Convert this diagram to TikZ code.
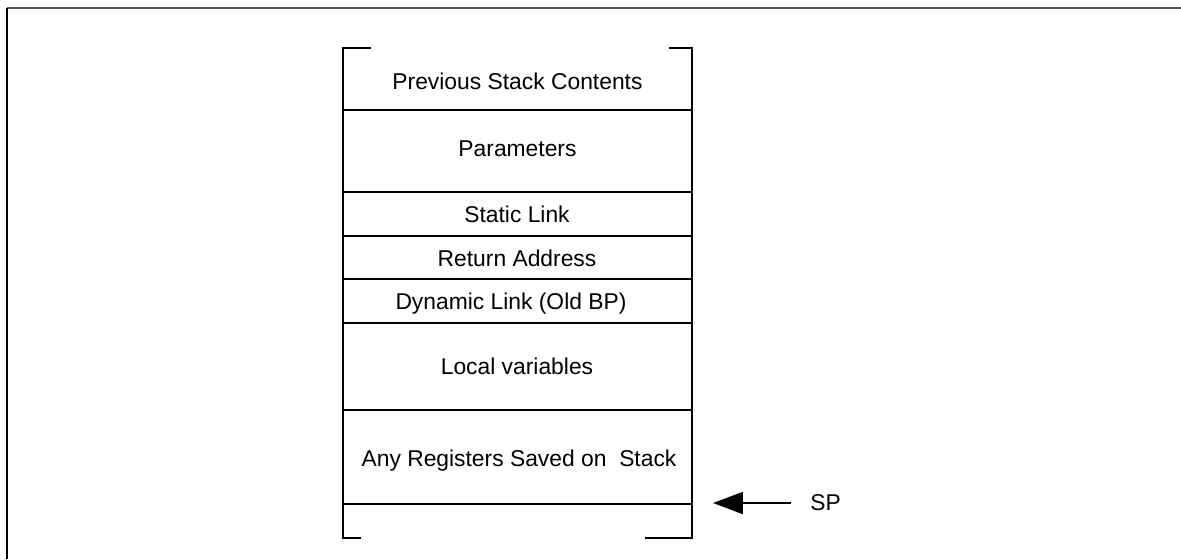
\documentclass[tikz,border=0pt]{standalone}
\usepackage{fontspec}
\setmainfont{Liberation Sans}
\usepackage{xcolor}
\usetikzlibrary{arrows.meta}
\definecolor{framegray}{HTML}{555555}
\tikzstyle{arrow} = [line width=1.1pt,-{Triangle[length=17pt,width=12.5pt]}]
\tikzstyle{cellline} = [line width=1.3pt]
\tikzstyle{label} = [anchor=base,inner sep=0pt,font=\fontsize{13pt}{15pt}\selectfont]

\begin{document}
\begin{tikzpicture}[line cap=butt,line join=miter,x=0.02cm,y=-0.02cm]
            \useasboundingbox (0,0) rectangle (1181,559);
            % outer frame
            \draw [line width=1.1pt,color=framegray] (7,8)-- (1181,8);
            \draw [line width=1.1pt,color=black] (7,8)-- (7,559);
            % stack brackets
            \draw [cellline] (371,48)-- (343,48)-- (343,538)-- (361,538);
            \draw [cellline] (669,48)-- (692,48)-- (692,538)-- (645,538);
            % dividers
            \draw [cellline] (343,110)-- (692,110);
            \draw [cellline] (343,192)-- (692,192);
            \draw [cellline] (343,236)-- (692,236);
            \draw [cellline] (343,279)-- (692,279);
            \draw [cellline] (343,323)-- (692,323);
            \draw [cellline] (343,410)-- (692,410);
            \draw [cellline] (343,504)-- (692,504);
            % contents
            \node[label] (prev) at (517.5,89) {Previous Stack Contents};
            \node[label] (params) at (517.5,156) {Parameters};
            \node[label] (static) at (517,222) {Static Link};
            \node[label] (ret) at (517,266) {Return Address};
            \node[label] (dyn) at (511,309) {Dynamic Link (Old BP)};
            \node[label] (locals) at (517,374) {Local variables};
            \node[label] (regs) at (519,466) {Any Registers Saved on\ \ Stack};
            % stack pointer
            \node[label,anchor=base west] (sp) at (810,510) {SP};
            \coordinate (spTail) at (791,503);
            \coordinate (spTip) at (713,503);
            \draw [arrow] (spTail)-- (spTip);
        \end{tikzpicture}
\end{document}
